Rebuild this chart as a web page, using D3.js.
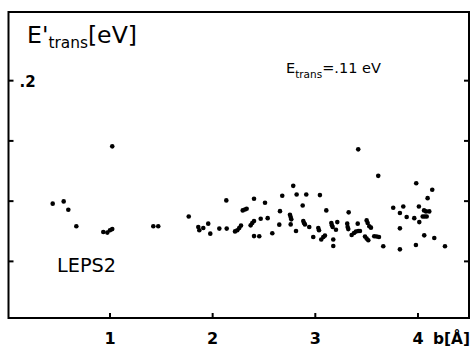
<!DOCTYPE html>
<html>
<head>
<meta charset="utf-8">
<script src="https://cdn.jsdelivr.net/npm/d3@7"></script>
<style>
  html, body { margin: 0; padding: 0; background: #fff; }
  svg { display: block; font-family: "DejaVu Sans", sans-serif; }
</style>
</head>
<body>
<svg id="chart" width="475" height="348"></svg>
<script>
// impact parameter b [Å]
const impactB = [
  0.442, 0.549, 0.594, 0.672, 1.022, 0.935, 0.974, 1.000, 1.022, 1.422,
  1.470, 1.767, 1.860, 1.870, 1.909, 1.957, 1.977, 2.065, 2.137, 2.133,
  2.218, 2.240, 2.259, 2.276, 2.293, 2.315, 2.331, 2.403, 2.370, 2.386,
  2.403, 2.403, 2.454, 2.468, 2.510, 2.536, 2.581, 2.656, 2.649, 2.678,
  2.785, 2.753, 2.760, 2.766, 2.760, 2.812, 2.818, 2.877, 2.883, 2.890,
  2.899, 2.912, 2.941, 2.980, 3.029, 3.036, 3.045, 3.058, 3.078, 3.094,
  3.107, 3.156, 3.162, 3.169, 3.175, 3.175, 3.201, 3.214, 3.325, 3.311,
  3.315, 3.321, 3.354, 3.377, 3.396, 3.418, 3.435, 3.413, 3.418, 3.484,
  3.500, 3.516, 3.500, 3.510, 3.526, 3.542, 3.574, 3.598, 3.620, 3.613,
  3.662, 3.759, 3.824, 3.824, 3.824, 3.857, 3.890, 3.964, 3.983, 3.980,
  4.009, 4.013, 4.059, 4.078, 4.046, 4.065, 4.085, 4.110, 4.061, 4.094,
  4.139, 4.159, 4.263
];
// final translational energy E'trans [eV]
const energyE = [
  0.0979, 0.0998, 0.0929, 0.0791, 0.1455, 0.0744, 0.0739, 0.0758, 0.0768, 0.0791,
  0.0791, 0.0873, 0.0785, 0.0758, 0.0777, 0.0813, 0.0730, 0.0772, 0.0772, 0.1006,
  0.0749, 0.0758, 0.0777, 0.0797, 0.0923, 0.0931, 0.0937, 0.1020, 0.0799, 0.0818,
  0.0835, 0.0710, 0.0708, 0.0854, 0.0987, 0.0859, 0.0733, 0.0917, 0.0805, 0.1045,
  0.1127, 0.0887, 0.0868, 0.0849, 0.0807, 0.0752, 0.1055, 0.0964, 0.0835, 0.0818,
  0.0807, 0.1055, 0.0785, 0.0702, 0.0777, 0.0758, 0.1050, 0.0681, 0.0702, 0.0714,
  0.0923, 0.0818, 0.0799, 0.0785, 0.0681, 0.0628, 0.0763, 0.0826, 0.0907, 0.0813,
  0.0785, 0.0768, 0.0719, 0.0735, 0.0747, 0.0752, 0.0752, 0.0813, 0.1430, 0.0706,
  0.0689, 0.0675, 0.0840, 0.0818, 0.0791, 0.0780, 0.0708, 0.0706, 0.0702, 0.1210,
  0.0625, 0.0945, 0.0901, 0.0774, 0.0600, 0.0956, 0.0868, 0.0859, 0.1149, 0.0636,
  0.0956, 0.0826, 0.0923, 0.0915, 0.0873, 0.0873, 0.0873, 0.0915, 0.0716, 0.1025,
  0.1094, 0.0694, 0.0625
];
const xTicks = [1, 2, 3, 4];
const xTickLabels = ["1", "2", "3", "4"];
const yTicks = [0.05, 0.1, 0.15, 0.2];
const yTickLabels = ["", "", "", ".2"];

const svg = d3.select("#chart");
const x = d3.scaleLinear().domain([0, 4.5]).range([7.33, 469.3]);
const y = d3.scaleLinear().domain([0.003, 0.257]).range([318, 12]);

const L = 8.5, R = 469, T = 12, B = 318;

// frame
svg.append("rect")
  .attr("x", L).attr("y", T).attr("width", R - L).attr("height", B - T)
  .attr("fill", "none").attr("stroke", "#000").attr("stroke-width", 2);

// y ticks (left and right, inward)
const yt = svg.append("g");
yTicks.forEach((v, i) => {
  yt.append("line").attr("x1", L).attr("x2", L + 5)
    .attr("y1", y(v)).attr("y2", y(v)).attr("stroke", "#000").attr("stroke-width", 2);
  yt.append("line").attr("x1", R - 5).attr("x2", R)
    .attr("y1", y(v)).attr("y2", y(v)).attr("stroke", "#000").attr("stroke-width", 2);
  if (yTickLabels[i]) {
    yt.append("text").attr("x", L + 11).attr("y", y(v) + 6)
      .attr("font-size", 15).attr("font-weight", "bold").text(yTickLabels[i]);
  }
});

// x ticks (bottom, inward) and labels
const xt = svg.append("g");
xTicks.forEach((v, i) => {
  xt.append("line").attr("x1", x(v)).attr("x2", x(v))
    .attr("y1", B).attr("y2", B - 5).attr("stroke", "#000").attr("stroke-width", 2);
  xt.append("text").attr("x", x(v)).attr("y", 344)
    .attr("text-anchor", "middle").attr("font-size", 16).attr("font-weight", "bold")
    .text(xTickLabels[i]);
});
svg.append("text").attr("x", 433).attr("y", 344)
  .attr("font-size", 16).attr("font-weight", "bold")
  .attr("textLength", 37).attr("lengthAdjust", "spacingAndGlyphs").text("b[Å]");

// y axis title
const yl = svg.append("text").attr("x", 27).attr("y", 43).attr("font-size", 23)
  .attr("textLength", 110).attr("lengthAdjust", "spacingAndGlyphs");
yl.append("tspan").text("E'");
yl.append("tspan").attr("font-size", 15).attr("dy", 5).text("trans");
yl.append("tspan").attr("dy", -5).text("[eV]");

// annotation
const an = svg.append("text").attr("x", 286).attr("y", 73).attr("font-size", 14.5);
an.append("tspan").text("E");
an.append("tspan").attr("font-size", 10.5).attr("dy", 5).text("trans");
an.append("tspan").attr("dy", -5).text("=.11 eV");

svg.append("text").attr("x", 57).attr("y", 272).attr("font-size", 20)
  .attr("textLength", 59).attr("lengthAdjust", "spacingAndGlyphs").text("LEPS2");

// points
svg.append("g").selectAll("circle")
  .data(impactB.map((b, i) => [b, energyE[i]]))
  .join("circle")
  .attr("cx", d => x(d[0])).attr("cy", d => y(d[1]))
  .attr("r", 2.3).attr("fill", "#000");
</script>
</body>
</html>
